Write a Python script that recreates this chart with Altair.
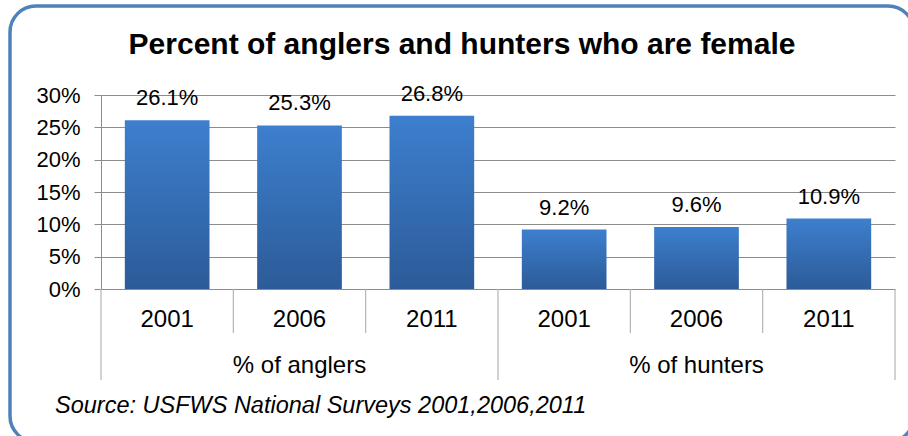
import altair as alt
import pandas as pd

# ---- data ----
groups = ["% of anglers", "% of anglers", "% of anglers",
          "% of hunters", "% of hunters", "% of hunters"]
years = ["2001", "2006", "2011", "2001", "2006", "2011"]
values = [26.1, 25.3, 26.8, 9.2, 9.6, 10.9]
group_names = ["% of anglers", "% of hunters"]
y_ticks = [0, 5, 10, 15, 20, 25, 30]
title_text = "Percent of anglers and hunters who are female"
source_text = "Source: USFWS National Surveys 2001,2006,2011"

W, H = 794, 194
PL, PT = 101, 95

df = pd.DataFrame({"group": groups, "year": years,
                   "value": [v / 100 for v in values]})
df["slot"] = range(len(df))
df["x0"] = df["slot"] + 0.18
df["x1"] = df["slot"] + 0.82
df["xc"] = df["slot"] + 0.5
df["label"] = [f"{v:.1f}%" for v in values]

bounds = pd.DataFrame({"b": list(range(len(years) + 1))})
bounds["long"] = [b % 3 == 0 for b in bounds["b"]]
gdf = pd.DataFrame({"group": group_names, "xc": [1.5, 4.5]})

xs = alt.Scale(domain=[0, 6], nice=False, zero=False)
ys = alt.Scale(domain=[0, 0.30], nice=False)

FONT = "Liberation Sans"
GRID = "#8c8c8c"
SEP = "#b4b4b4"

grad = alt.Gradient(
    gradient="linear",
    stops=[alt.GradientStop(color="#3d7fce", offset=0),
           alt.GradientStop(color="#2c5b98", offset=1)],
    x1=0, x2=0, y1=0, y2=1,
)

def yaxis():
    return alt.Axis(
        values=[t / 100 for t in y_ticks], format=".0%", title=None,
        labelFont=FONT, labelFontSize=22, labelColor="black",
        labelOverlap=False, labelPadding=14, tickSize=7, tickColor=GRID,
        domainColor=GRID, gridColor=GRID, grid=True)

bars = alt.Chart(df).mark_rect(color=grad).encode(
    x=alt.X("x0:Q", scale=xs, axis=None),
    x2="x1:Q",
    y=alt.Y("value:Q", scale=ys, axis=yaxis()),
    y2=alt.datum(0),
)

vlabels = alt.Chart(df).mark_text(
    font=FONT, fontSize=22, color="black", baseline="alphabetic", dy=-15
).encode(
    x=alt.X("xc:Q", scale=xs, axis=None),
    y=alt.Y("value:Q", scale=ys, axis=yaxis()),
    text="label:N",
)

short_sep = alt.Chart(bounds).transform_filter("!datum.long").mark_rule(
    color=SEP, strokeWidth=1.2
).encode(x=alt.X("b:Q", scale=xs, axis=None),
         y=alt.value(H), y2=alt.value(H + 44))

long_sep = alt.Chart(bounds).transform_filter("datum.long").mark_rule(
    color=SEP, strokeWidth=1.2
).encode(x=alt.X("b:Q", scale=xs, axis=None),
         y=alt.value(H), y2=alt.value(H + 91))

year_lbl = alt.Chart(df).mark_text(
    font=FONT, fontSize=24, color="black", baseline="alphabetic"
).encode(x=alt.X("xc:Q", scale=xs, axis=None), y=alt.value(H + 38),
         text="year:N")

group_lbl = alt.Chart(gdf).mark_text(
    font=FONT, fontSize=24, color="black", baseline="alphabetic"
).encode(x=alt.X("xc:Q", scale=xs, axis=None), y=alt.value(H + 84),
         text="group:N")

one = pd.DataFrame({"t": [title_text], "s": [source_text]})

title = alt.Chart(one).mark_text(
    font=FONT, fontSize=30, fontWeight="bold", color="black",
    baseline="alphabetic", align="center"
).encode(x=alt.value(462 - PL), y=alt.value(54 - PT), text="t:N")

source = alt.Chart(one).mark_text(
    font=FONT, fontSize=23.5, fontStyle="italic", color="black",
    baseline="alphabetic", align="left"
).encode(x=alt.value(55 - PL), y=alt.value(413 - PT), text="s:N")

border = alt.Chart(one).mark_rect(
    fill="white", fillOpacity=0, stroke="#4f81bd", strokeWidth=3.5,
    cornerRadius=26
).encode(x=alt.value(10 - PL), x2=alt.value(914 - PL),
         y=alt.value(6 - PT), y2=alt.value(442 - PT))

chart = alt.layer(
    bars, vlabels, short_sep, long_sep, year_lbl, group_lbl, title, source, border
).properties(
    width=W, height=H,
    autosize=alt.AutoSizeParams(type="none"),
    padding={"left": PL, "top": PT, "right": 908 - PL - W, "bottom": 436 - PT - H},
    background="white",
).configure_view(stroke=None)

chart.save("out.html", embed_options={"renderer": "svg", "actions": False})
